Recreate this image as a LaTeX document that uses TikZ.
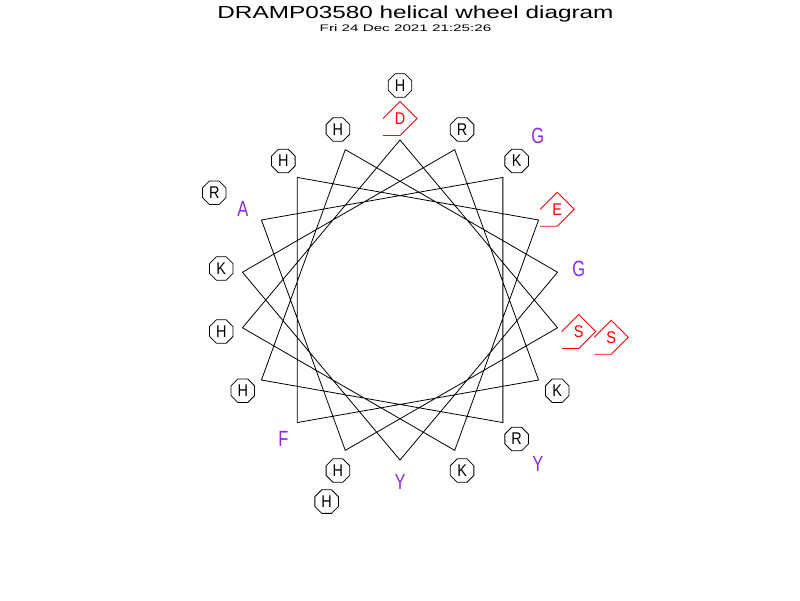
\documentclass[tikz,border=0pt]{standalone}
\usepackage{fontspec}
\usepackage{graphicx}
\setmainfont{Liberation Sans}
\usetikzlibrary{shapes.geometric}
\definecolor{pur}{RGB}{138,43,226}
\begin{document}
\begin{tikzpicture}[x=1pt,y=-1pt,line width=0.8pt,
  oct/.style={draw,regular polygon,regular polygon sides=8,minimum size=25.5pt,inner sep=0pt,font=\fontsize{17}{17}\selectfont},
  plainres/.style={text=pur,inner sep=0pt,font=\fontsize{22}{22}\selectfont},
  diares/.style={text=red,inner sep=0pt,font=\fontsize{17}{17}\selectfont},
  diaborder/.style={draw=red},
  wheel/.style={draw=black}]
\useasboundingbox (0,0) rectangle (800,600);
% title
\node[inner sep=0pt] (title) at (415.5,13.5) {\scalebox{1.39}[1]{\fontsize{17.5}{17.5}\selectfont DRAMP03580 helical wheel diagram}};
\node[inner sep=0pt] (date) at (405.5,28) {\scalebox{1.6}[1]{\fontsize{9.5}{9.5}\selectfont Fri 24 Dec 2021 21:25:26}};
% wheel vertices
\foreach \k in {0,...,17}{
  \pgfmathsetmacro\a{\k*100}
  \coordinate (v\k) at ({400+160*sin(\a)},{300-160*cos(\a)});
}
\draw[wheel] (v0) \foreach \k in {1,...,17}{ -- (v\k)} -- cycle;
% octagon residues
\foreach \i/\t in {2/H,4/K,5/R,6/H,7/H,10/K,11/R,12/K,14/H,16/K,17/H,18/H,20/H,21/R}{
  \pgfmathsetmacro\a{mod(\i*100,360)}
  \pgfmathsetmacro\r{\i<18 ? 181.5 : 214.5}
  \node[oct] (r\i) at ({400+\r*sin(\a)},{300-\r*cos(\a)}) {\scalebox{0.85}[1]{\t}};
}
% diamond residues
\foreach \i/\t in {0/D,1/S,15/E,19/S}{
  \pgfmathsetmacro\a{mod(\i*100,360)}
  \pgfmathsetmacro\r{\i<18 ? 181.5 : 214.5}
  \node[diares] (r\i) at ({400+\r*sin(\a)},{300-\r*cos(\a)}) {\scalebox{0.85}[1]{\t}};
  \draw[diaborder] (r\i.center) ++(-17,0) -- ++(17,-17) -- ++(17,17) -- ++(-17,17) -- ++(-17,0);
}
% plain residues
\foreach \i/\t in {3/A,8/G,9/Y,13/F,22/G,23/Y}{
  \pgfmathsetmacro\a{mod(\i*100,360)}
  \pgfmathsetmacro\r{\i<18 ? 181.5 : 214.5}
  \node[plainres] (r\i) at ({400+\r*sin(\a)},{300-\r*cos(\a)}) {\scalebox{0.75}[1]{\t}};
}
\end{tikzpicture}
\end{document}
